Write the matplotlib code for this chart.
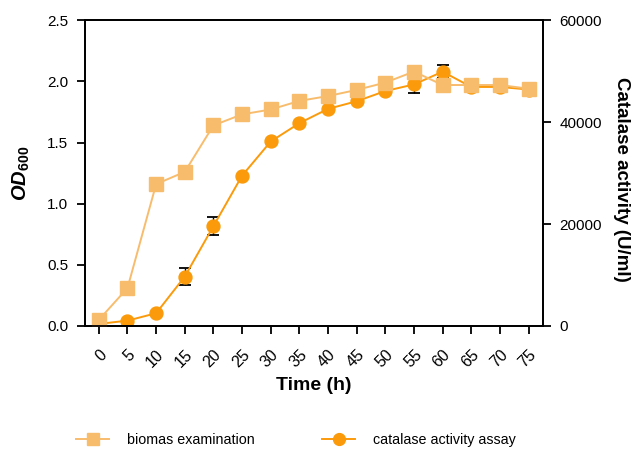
import matplotlib
matplotlib.use("Agg")
import matplotlib.pyplot as plt
from matplotlib.lines import Line2D

plt.rcParams['font.family'] = ['Liberation Sans', 'DejaVu Sans']
plt.rcParams['mathtext.fontset'] = 'custom'
plt.rcParams['mathtext.rm'] = 'Liberation Sans'
plt.rcParams['mathtext.bf'] = 'Liberation Sans:bold'
plt.rcParams['mathtext.it'] = 'Liberation Sans:italic'
plt.rcParams['mathtext.bfit'] = 'Liberation Sans:italic:bold'

time_h = [0, 5, 10, 15, 20, 25, 30, 35, 40, 45, 50, 55, 60, 65, 70, 75]
biomass_od = [0.05, 0.31, 1.16, 1.26, 1.64, 1.73, 1.77, 1.84, 1.88, 1.93, 1.99, 2.08,
              1.97, 1.97, 1.97, 1.94]
catalase = [400, 1050, 2500, 9700, 19600, 29500, 36200, 39800, 42600, 44100, 46100,
            47400, 49900, 46900, 46900, 46400]
catalase_err = [0, 0, 0, 1600, 1800, 0, 0, 0, 0, 0, 0, 1600, 1300, 0, 0, 0]

c_bio = '#F8BC6D'
c_cat = '#FB9A0B'

fig = plt.figure(figsize=(6.35, 4.49), dpi=100)
ax = fig.add_axes([0.134, 0.274, 0.721, 0.681])
ax2 = ax.twinx()
ax.set_zorder(ax2.get_zorder() + 1)
ax.patch.set_visible(False)

eb_idx = [i for i, e in enumerate(catalase_err) if e > 0]
ax2.errorbar([time_h[i] for i in eb_idx], [catalase[i] for i in eb_idx],
             yerr=[catalase_err[i] for i in eb_idx], fmt='none', ecolor='black',
             elinewidth=1.0, capsize=4.3, capthick=1.3, zorder=1)
ax2.plot(time_h, catalase, color=c_cat, marker='o', markersize=9.3, lw=1.4, zorder=2)
ax.plot(time_h, biomass_od, color=c_bio, marker='s', markersize=10, lw=1.4, zorder=2)

ax.set_xlim(-2.4, 77.5)
ax.set_ylim(0, 2.5)
ax2.set_ylim(0, 60000)
ax.set_xticks(time_h)
ax.set_xticklabels([str(t) for t in time_h], rotation=45, ha='right', rotation_mode='anchor')
ax.set_yticks([0, 0.5, 1.0, 1.5, 2.0, 2.5])
ax.set_yticklabels(['0.0', '0.5', '1.0', '1.5', '2.0', '2.5'])
ax2.set_yticks([0, 20000, 40000, 60000])

for a in (ax, ax2):
    for s in a.spines.values():
        s.set_linewidth(1.3)
    a.tick_params(width=1.3, length=6, labelsize=11, colors='black', pad=6)
ax.tick_params(axis='x', pad=9, labelsize=11.5)

ax.set_xlabel('Time (h)', fontsize=14, fontweight='bold', labelpad=5)
ax.set_ylabel(r'$\mathbfit{OD}_{\mathbf{600}}$', fontsize=14.5, labelpad=11)
ax2.set_ylabel('Catalase activity (U/ml)', fontsize=13.5, fontweight='bold',
               rotation=270, labelpad=20)
ax2.yaxis.label.set_y(0.48)

handles = [Line2D([], [], color=c_bio, marker='s', markersize=8, lw=1.4),
           Line2D([], [], color=c_cat, marker='o', markersize=8.5, lw=1.4)]
fig.legend(handles, ['biomas examination', 'catalase activity assay'],
           loc='center', bbox_to_anchor=(296 / 635, 1 - 440 / 449), ncol=2, frameon=False,
           fontsize=10.3, handlelength=2.3, columnspacing=4.7, handletextpad=1.25,
           borderpad=0, borderaxespad=0)

fig.savefig('out.png', dpi=100)
